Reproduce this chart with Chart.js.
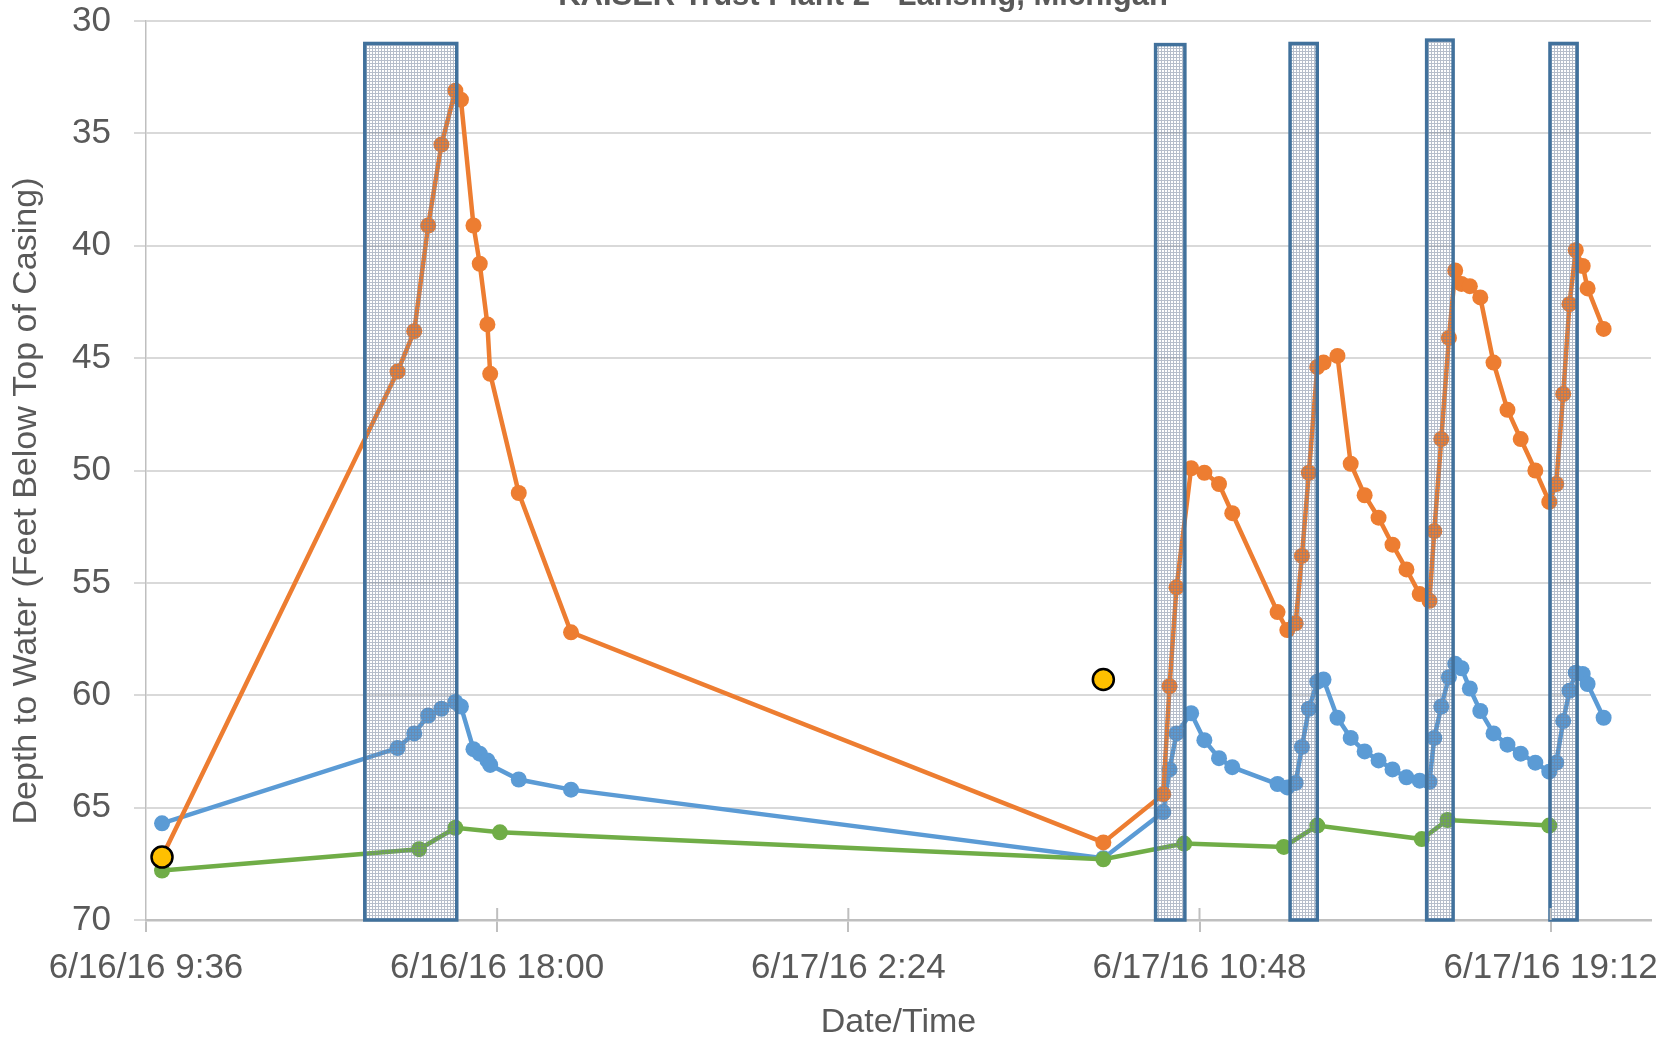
<!DOCTYPE html>
<html>
<head>
<meta charset="utf-8">
<script src="https://cdn.jsdelivr.net/npm/chart.js@4.4.1/dist/chart.umd.min.js"></script>
<style>
  body { margin: 0; background: #fff; overflow: hidden; }
</style>
</head>
<body>
<canvas id="myChart" width="1664" height="1040"></canvas>
<script>
"use strict";

// well readings (orange + blue share the same read times)
const readTimes = [
  "6/16/16 9:59", "6/16/16 15:37", "6/16/16 16:01", "6/16/16 16:21", "6/16/16 16:40",
  "6/16/16 17:00", "6/16/16 17:08", "6/16/16 17:26", "6/16/16 17:35", "6/16/16 17:46",
  "6/16/16 17:50", "6/16/16 18:31", "6/16/16 19:46",
  "6/17/16 8:30", "6/17/16 9:56", "6/17/16 10:05", "6/17/16 10:15", "6/17/16 10:36",
  "6/17/16 10:55", "6/17/16 11:16", "6/17/16 11:35", "6/17/16 12:40", "6/17/16 12:54",
  "6/17/16 13:06", "6/17/16 13:15", "6/17/16 13:25", "6/17/16 13:37", "6/17/16 13:46",
  "6/17/16 14:06", "6/17/16 14:25", "6/17/16 14:45", "6/17/16 15:05", "6/17/16 15:25",
  "6/17/16 15:45", "6/17/16 16:04", "6/17/16 16:18", "6/17/16 16:25", "6/17/16 16:35",
  "6/17/16 16:46", "6/17/16 16:55", "6/17/16 17:04", "6/17/16 17:16", "6/17/16 17:31",
  "6/17/16 17:50", "6/17/16 18:10", "6/17/16 18:29", "6/17/16 18:50", "6/17/16 19:10",
  "6/17/16 19:20", "6/17/16 19:30", "6/17/16 19:39", "6/17/16 19:48", "6/17/16 19:58",
  "6/17/16 20:05", "6/17/16 20:28"
];
const orangeDepth = [
  67.2, 45.6, 43.8, 39.1, 35.5, 33.1, 33.5, 39.1, 40.8, 43.5, 45.7, 51.0, 57.2,
  66.55, 64.4, 59.6, 55.2, 49.9, 50.1, 50.6, 51.9, 56.3, 57.1,
  56.8, 53.8, 50.1, 45.4, 45.2, 44.9, 49.7, 51.1, 52.1, 53.3,
  54.4, 55.5, 55.8, 52.7, 48.6, 44.1, 41.1, 41.7, 41.8, 42.3,
  45.2, 47.3, 48.6, 50.0, 51.4, 50.6, 46.6, 42.6, 40.2, 40.9,
  41.9, 43.7
];
const blueDepth = [
  65.7, 62.35, 61.7, 60.9, 60.6, 60.3, 60.5, 62.4, 62.6, 62.9, 63.1, 63.75, 64.2,
  67.25, 65.2, 63.3, 61.7, 60.8, 62.0, 62.8, 63.2, 63.95, 64.1,
  63.9, 62.3, 60.6, 59.4, 59.3, 61.0, 61.9, 62.5, 62.9, 63.3,
  63.65, 63.8, 63.85, 61.9, 60.5, 59.2, 58.6, 58.8, 59.7, 60.7,
  61.7, 62.2, 62.6, 63.0, 63.4, 63.0, 61.15, 59.8, 59.0, 59.05,
  59.5, 61.0
];

const greenTimes = [
  "6/16/16 9:59", "6/16/16 16:08", "6/16/16 17:00", "6/16/16 18:04", "6/17/16 8:30",
  "6/17/16 10:26", "6/17/16 12:49", "6/17/16 13:37", "6/17/16 16:07", "6/17/16 16:44",
  "6/17/16 19:10"
];
const greenDepth = [67.8, 66.85, 65.9, 66.1, 67.3, 66.6, 66.75, 65.8, 66.4, 65.55, 65.8];

const yellowTimes = ["6/16/16 9:59", "6/17/16 8:30"];
const yellowDepth = [67.2, 59.3];

// shaded pumping periods
const pumpStart = ["6/16/16 14:50", "6/17/16 9:45", "6/17/16 12:58", "6/17/16 16:14", "6/17/16 19:11"];
const pumpEnd = ["6/16/16 17:02", "6/17/16 10:27", "6/17/16 13:37", "6/17/16 16:52", "6/17/16 19:50"];
const pumpTop = [31.0, 31.05, 31.0, 30.85, 31.0];

const titleText = "KAISER Trust Plant 2 - Lansing, Michigan";
const xTitle = "Date/Time";
const yTitle = "Depth to Water (Feet Below Top of Casing)";

const FONT = "'Liberation Sans', Arial, sans-serif";
const TEXT = "#595959";

// hours after 6/16/16 9:36
function toHours(s) {
    const [date, time] = s.split(" ");
    const day = parseInt(date.split("/")[1]);
    const [h, m] = time.split(":").map(Number);
    return (day - 16) * 24 + h + m / 60 - 9.6;
}

function formatTick(v) {
    const mins = Math.round((v + 9.6) * 60);
    const day = 16 + Math.floor(mins / 1440);
    const rem = mins % 1440;
    const h = Math.floor(rem / 60);
    const m = rem % 60;
    return "6/" + day + "/16 " + h + ":" + String(m).padStart(2, "0");
}

function toPoints(times, vals) {
    return times.map((t, i) => ({ x: toHours(t), y: vals[i] }));
}

function makePattern() {
    const c = document.createElement("canvas");
    c.width = 3;
    c.height = 3;
    const g = c.getContext("2d");
    g.fillStyle = "rgba(110,125,152,0.5)";
    g.fillRect(0, 0, 3, 1);
    g.fillRect(0, 1, 1, 2);
    return g.createPattern(c, "repeat");
}

const pumpBoxes = {
    id: "pumpBoxes",
    afterDatasetsDraw(chart) {
        const ctx = chart.ctx;
        const xs = chart.scales.x;
        const ys = chart.scales.y;
        const pattern = makePattern();
        ctx.save();
        for (let i = 0; i < pumpStart.length; i++) {
            const x1 = xs.getPixelForValue(toHours(pumpStart[i]));
            const x2 = xs.getPixelForValue(toHours(pumpEnd[i]));
            const y1 = ys.getPixelForValue(pumpTop[i]);
            const y2 = ys.getPixelForValue(70);
            ctx.fillStyle = pattern;
            ctx.fillRect(x1, y1, x2 - x1, y2 - y1);
            ctx.strokeStyle = "#41719C";
            ctx.lineWidth = 3.5;
            ctx.strokeRect(x1, y1, x2 - x1, y2 - y1);
        }
        ctx.restore();
    }
};

const extras = {
    id: "extras",
    afterDraw(chart) {
        const ctx = chart.ctx;
        const xs = chart.scales.x;
        const area = chart.chartArea;
        ctx.save();
        // upper half of the cross tick marks
        ctx.strokeStyle = "#BFBFBF";
        ctx.lineWidth = 2;
        xs.ticks.forEach(t => {
            if (t.value <= 0) return;
            const px = xs.getPixelForValue(t.value);
            ctx.beginPath();
            ctx.moveTo(px, area.bottom - 12);
            ctx.lineTo(px, area.bottom);
            ctx.stroke();
        });
        // clipped chart title
        ctx.fillStyle = TEXT;
        ctx.textAlign = "center";
        ctx.textBaseline = "alphabetic";
        ctx.font = "bold 31px " + FONT;
        ctx.fillText(titleText, 863, 5);
        // y axis title
        ctx.font = "34px " + FONT;
        ctx.textBaseline = "middle";
        ctx.translate(27, 501);
        ctx.rotate(-Math.PI / 2);
        ctx.fillText(yTitle, 0, 0);
        ctx.restore();
    }
};

const canvas = document.getElementById("myChart");
const ctx = canvas.getContext("2d");

const lineStyle = { borderWidth: 4.5, pointRadius: 8, pointBorderWidth: 0 };

const myChart = new Chart(ctx, {
    type: "line",
    data: {
        datasets: [
            {
                label: "Yellow",
                data: toPoints(yellowTimes, yellowDepth),
                showLine: false,
                pointRadius: 10.5,
                pointBackgroundColor: "#FFC000",
                pointBorderColor: "#000000",
                pointBorderWidth: 2.5
            },
            Object.assign({
                label: "Green",
                data: toPoints(greenTimes, greenDepth),
                borderColor: "#70AD47",
                backgroundColor: "#70AD47"
            }, lineStyle),
            Object.assign({
                label: "Orange",
                data: toPoints(readTimes, orangeDepth),
                borderColor: "#ED7D31",
                backgroundColor: "#ED7D31"
            }, lineStyle),
            Object.assign({
                label: "Blue",
                data: toPoints(readTimes, blueDepth),
                borderColor: "#5B9BD5",
                backgroundColor: "#5B9BD5"
            }, lineStyle)
        ]
    },
    options: {
        responsive: false,
        animation: false,
        devicePixelRatio: 1,
        layout: { padding: { top: 21, right: 13, left: 0, bottom: 0 } },
        plugins: {
            legend: { display: false },
            tooltip: { enabled: false }
        },
        scales: {
            x: {
                type: "linear",
                min: 0,
                max: 36,
                afterBuildTicks(scale) {
                    scale.ticks = scale.ticks.filter(t => Math.abs(t.value / 8.4 - Math.round(t.value / 8.4)) < 1e-6);
                },
                afterFit(scale) {
                    scale.height = 120;
                    scale.paddingLeft = 0;
                    scale.paddingRight = 0;
                },
                ticks: {
                    stepSize: 8.4,
                    includeBounds: false,
                    maxRotation: 0,
                    autoSkip: false,
                    padding: 15,
                    color: TEXT,
                    font: { family: FONT, size: 35 },
                    callback: v => formatTick(v)
                },
                grid: {
                    drawOnChartArea: false,
                    drawTicks: true,
                    tickLength: 12,
                    color: "#BFBFBF",
                    lineWidth: 2
                },
                border: { color: "#BFBFBF", width: 2.5 },
                title: {
                    display: true,
                    text: xTitle,
                    color: TEXT,
                    font: { family: FONT, size: 34, lineHeight: 1.05 },
                    padding: { top: 0, bottom: 0 }
                }
            },
            y: {
                reverse: true,
                min: 30,
                max: 70,
                afterFit(scale) {
                    scale.width = 146;
                    scale.paddingTop = 0;
                    scale.paddingBottom = 0;
                },
                ticks: {
                    stepSize: 5,
                    padding: 23,
                    color: TEXT,
                    font: { family: FONT, size: 35 }
                },
                grid: {
                    color: "#D9D9D9",
                    lineWidth: 2,
                    tickLength: 12
                },
                border: { color: "#BFBFBF", width: 1.5 }
            }
        }
    },
    plugins: [pumpBoxes, extras]
});
</script>
</body>
</html>
